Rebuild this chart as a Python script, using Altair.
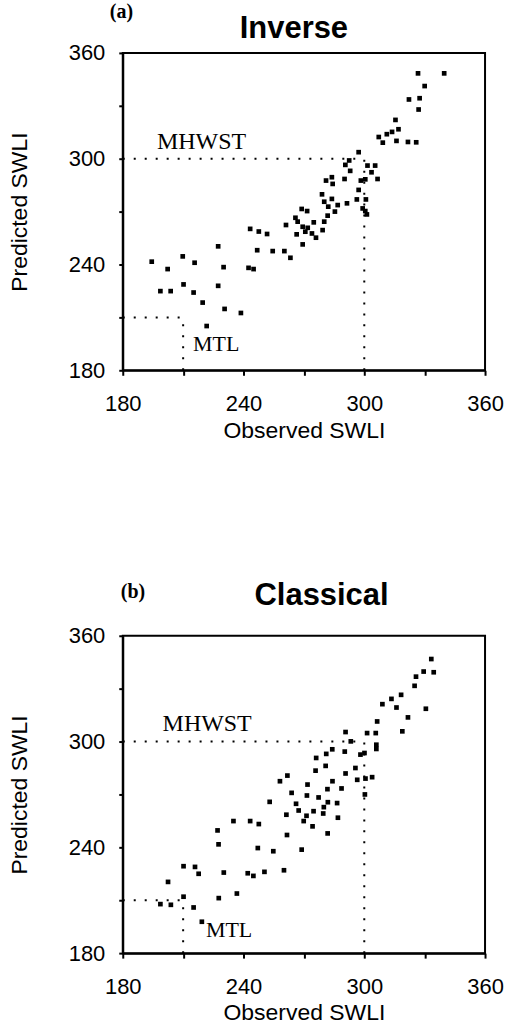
import altair as alt
import pandas as pd

# ---- data ----
inv_obs = [194.4, 202.3, 209.8, 215.7, 198.7, 203.8, 210.2, 215.2, 219.7, 221.7,
           227.4, 230.1, 227.4, 230.6, 238.7, 242.5, 245.0, 243.3,
           297.2, 292.5, 290.6, 293.0, 301.6, 305.4, 303.6, 306.6, 290.2, 298.3,
           300.5, 281.0, 283.9, 284.3, 279.0, 280.1, 283.9, 286.8, 291.4, 296.3,
           300.8, 297.2, 299.2, 300.5, 301.3, 282.1, 285.4, 281.8, 280.1, 279.3,
           276.0, 274.0, 274.9, 271.9, 270.7, 269.4, 266.9, 265.8, 268.9, 271.6,
           261.1, 266.4, 269.4, 247.6, 251.7, 246.8, 254.5, 260.3, 263.3,
           326.7, 339.7, 330.0, 322.2, 327.5, 327.0, 315.5, 317.0, 313.8, 311.2,
           307.2, 309.2, 316.0, 321.7, 325.8]
inv_pred = [241.6, 237.4, 244.6, 241.0, 224.9, 224.9, 228.7, 224.1, 218.4, 205.1,
            250.3, 238.5, 227.9, 214.8, 212.5, 238.1, 237.4, 260.2,
            303.7, 299.0, 296.5, 293.1, 296.1, 296.1, 292.3, 288.5, 288.5, 287.6,
            288.3, 287.6, 289.5, 285.7, 279.8, 275.6, 277.2, 273.7, 274.7, 276.9,
            276.9, 282.3, 271.8, 270.3, 268.4, 272.8, 270.0, 267.7, 264.3, 259.5,
            255.2, 257.6, 263.9, 260.8, 258.6, 261.4, 264.3, 266.5, 271.5, 270.3,
            262.4, 257.1, 251.4, 258.7, 257.3, 248.1, 247.6, 247.6, 243.8,
            348.4, 348.4, 341.2, 333.6, 334.3, 327.9, 322.0, 316.7, 315.2, 313.9,
            312.3, 309.1, 310.1, 309.5, 309.3]

cls_obs = [198.7, 203.9, 215.2, 219.3,
           202.5, 210.2, 215.9, 217.7, 210.2, 227.1, 227.6, 230.2, 227.7, 236.7,
           235.0, 243.3, 247.6, 247.1, 254.8, 242.1, 244.9, 250.4, 260.1, 268.9,
           261.6, 253.0, 261.3, 263.9, 266.1, 267.4, 269.9, 271.3, 271.8, 271.5,
           274.3, 274.8, 277.3, 279.6, 279.9, 281.9, 281.7, 284.2, 281.8, 286.5,
           286.9, 288.7,
           290.7, 293.3, 290.3, 284.1, 281.1, 276.1, 280.8, 275.8, 290.7, 261.8, 258.1,
           333.3, 329.5, 334.5, 325.7, 325.0, 318.3, 313.5, 309.0, 316.0, 330.6,
           321.7, 306.4, 318.9, 301.4, 305.7, 306.0, 306.0, 300.1, 298.1, 295.6,
           296.5, 300.6, 303.9, 300.3]
cls_pred = [207.8, 207.4, 205.9, 197.8,
            220.4, 229.3, 228.9, 225.0, 212.0, 249.6, 241.7, 225.7, 211.2, 213.8,
            254.9, 254.9, 253.2, 239.6, 237.8, 225.3, 223.8, 226.1, 227.0, 238.7,
            247.0, 265.8, 258.5, 270.9, 264.7, 260.9, 254.9, 257.9, 275.6, 269.4,
            251.9, 260.5, 268.3, 259.2, 262.8, 265.6, 273.0, 277.5, 247.9, 265.1,
            256.8, 273.4,
            305.4, 300.1, 294.3, 295.6, 293.0, 290.7, 286.2, 283.5, 281.9, 280.7, 277.5,
            346.8, 339.7, 339.3, 336.8, 331.6, 326.5, 324.2, 321.2, 319.3, 318.6,
            313.7, 311.4, 305.8, 304.8, 304.8, 298.2, 295.8, 293.5, 292.6, 285.0,
            278.3, 279.0, 279.8, 270.0]

axis_ticks = [180, 210, 240, 270, 300, 330, 360]

# reference (dotted) lines: MHWST and MTL
ref_x = [180, 300, 180, 210]
ref_x2 = [300, 300, 210, 210]
ref_y = [300, 180, 210, 180]
ref_y2 = [300, 300, 210, 210]

label_names = ["MHWST", "MTL"]
label_sizes = [24, 22]
inv_label_x = [197.0, 214.9]
inv_label_y = [305.6, 190.7]
cls_label_x = [199.8, 221.3]
cls_label_y = [305.8, 189.0]

SANS = "Liberation Sans"
SERIF = "Liberation Serif"
LAB_EXPR = "datum.value % 60 == 0 ? datum.label : ''"


def panel(obs, pred, lab_x, lab_y, name, letter, h,
          title_x, title_y, letter_x, letter_y, letter_size, y_title_pad):
    pts = pd.DataFrame({"obs": obs, "pred": pred})
    refs = pd.DataFrame({"obs": ref_x, "obs2": ref_x2, "pred": ref_y, "pred2": ref_y2})
    labs = pd.DataFrame({"obs": lab_x, "pred": lab_y, "t": label_names, "s": label_sizes})

    xs = alt.Scale(domain=[180, 360], nice=False, zero=False)
    ys = alt.Scale(domain=[180, 360], nice=False, zero=False)
    xaxis = alt.Axis(values=axis_ticks, labelExpr=LAB_EXPR, title="Observed SWLI",
                     grid=False, labelFlush=False, tickSize=5, labelPadding=18,
                     titlePadding=5)
    yaxis = alt.Axis(values=axis_ticks, labelExpr=LAB_EXPR, title="Predicted SWLI",
                     grid=False, labelFlush=False, tickSize=4, labelPadding=14,
                     titlePadding=y_title_pad)
    X = alt.X("obs:Q", scale=xs, axis=xaxis)
    Y = alt.Y("pred:Q", scale=ys, axis=yaxis)

    rules = alt.Chart(refs).mark_rule(color="black", strokeWidth=2,
                                      strokeDash=[2, 9]).encode(
        x=X, x2="obs2:Q", y=Y, y2="pred2:Q")
    points = alt.Chart(pts).mark_square(size=22, color="black", opacity=1).encode(x=X, y=Y)
    texts = alt.Chart(labs).mark_text(font=SERIF, align="left", baseline="alphabetic",
                                      color="black").encode(
        x=X, y=Y, text="t:N", size=alt.Size("s:Q", scale=None, legend=None))
    title = alt.Chart(pd.DataFrame({"t": [name]})).mark_text(
        font=SANS, fontSize=31, fontWeight="bold", align="center",
        baseline="alphabetic", color="black").encode(
        x=alt.value(title_x), y=alt.value(title_y), text="t:N")
    tag = alt.Chart(pd.DataFrame({"t": [letter]})).mark_text(
        font=SERIF, fontSize=letter_size, fontWeight="bold", align="left",
        baseline="top", color="black").encode(
        x=alt.value(letter_x), y=alt.value(letter_y), text="t:N")
    return alt.layer(rules, points, texts, title, tag).properties(width=363, height=h)


top = panel(inv_obs, inv_pred, inv_label_x, inv_label_y, "Inverse", "(a)", 318,
            171.5, -15, -13, -51, 20, 37)
bottom = panel(cls_obs, cls_pred, cls_label_x, cls_label_y, "Classical", "(b)", 318,
               199.2, -30.7, -2, -54, 20, 37)

chart = alt.vconcat(top, bottom, spacing=136).properties(
    padding={"left": 7, "top": 0, "right": 0, "bottom": 0}
).configure_view(stroke="black", strokeWidth=2).configure_axis(
    domainColor="black", domainWidth=2, tickColor="black", tickWidth=2,
    labelFont=SANS, labelFontSize=22, labelColor="black",
    titleFont=SANS, titleFontSize=23, titleFontWeight="normal", titleColor="black")

chart.save("out.html", embed_options={"renderer": "svg", "actions": False})
